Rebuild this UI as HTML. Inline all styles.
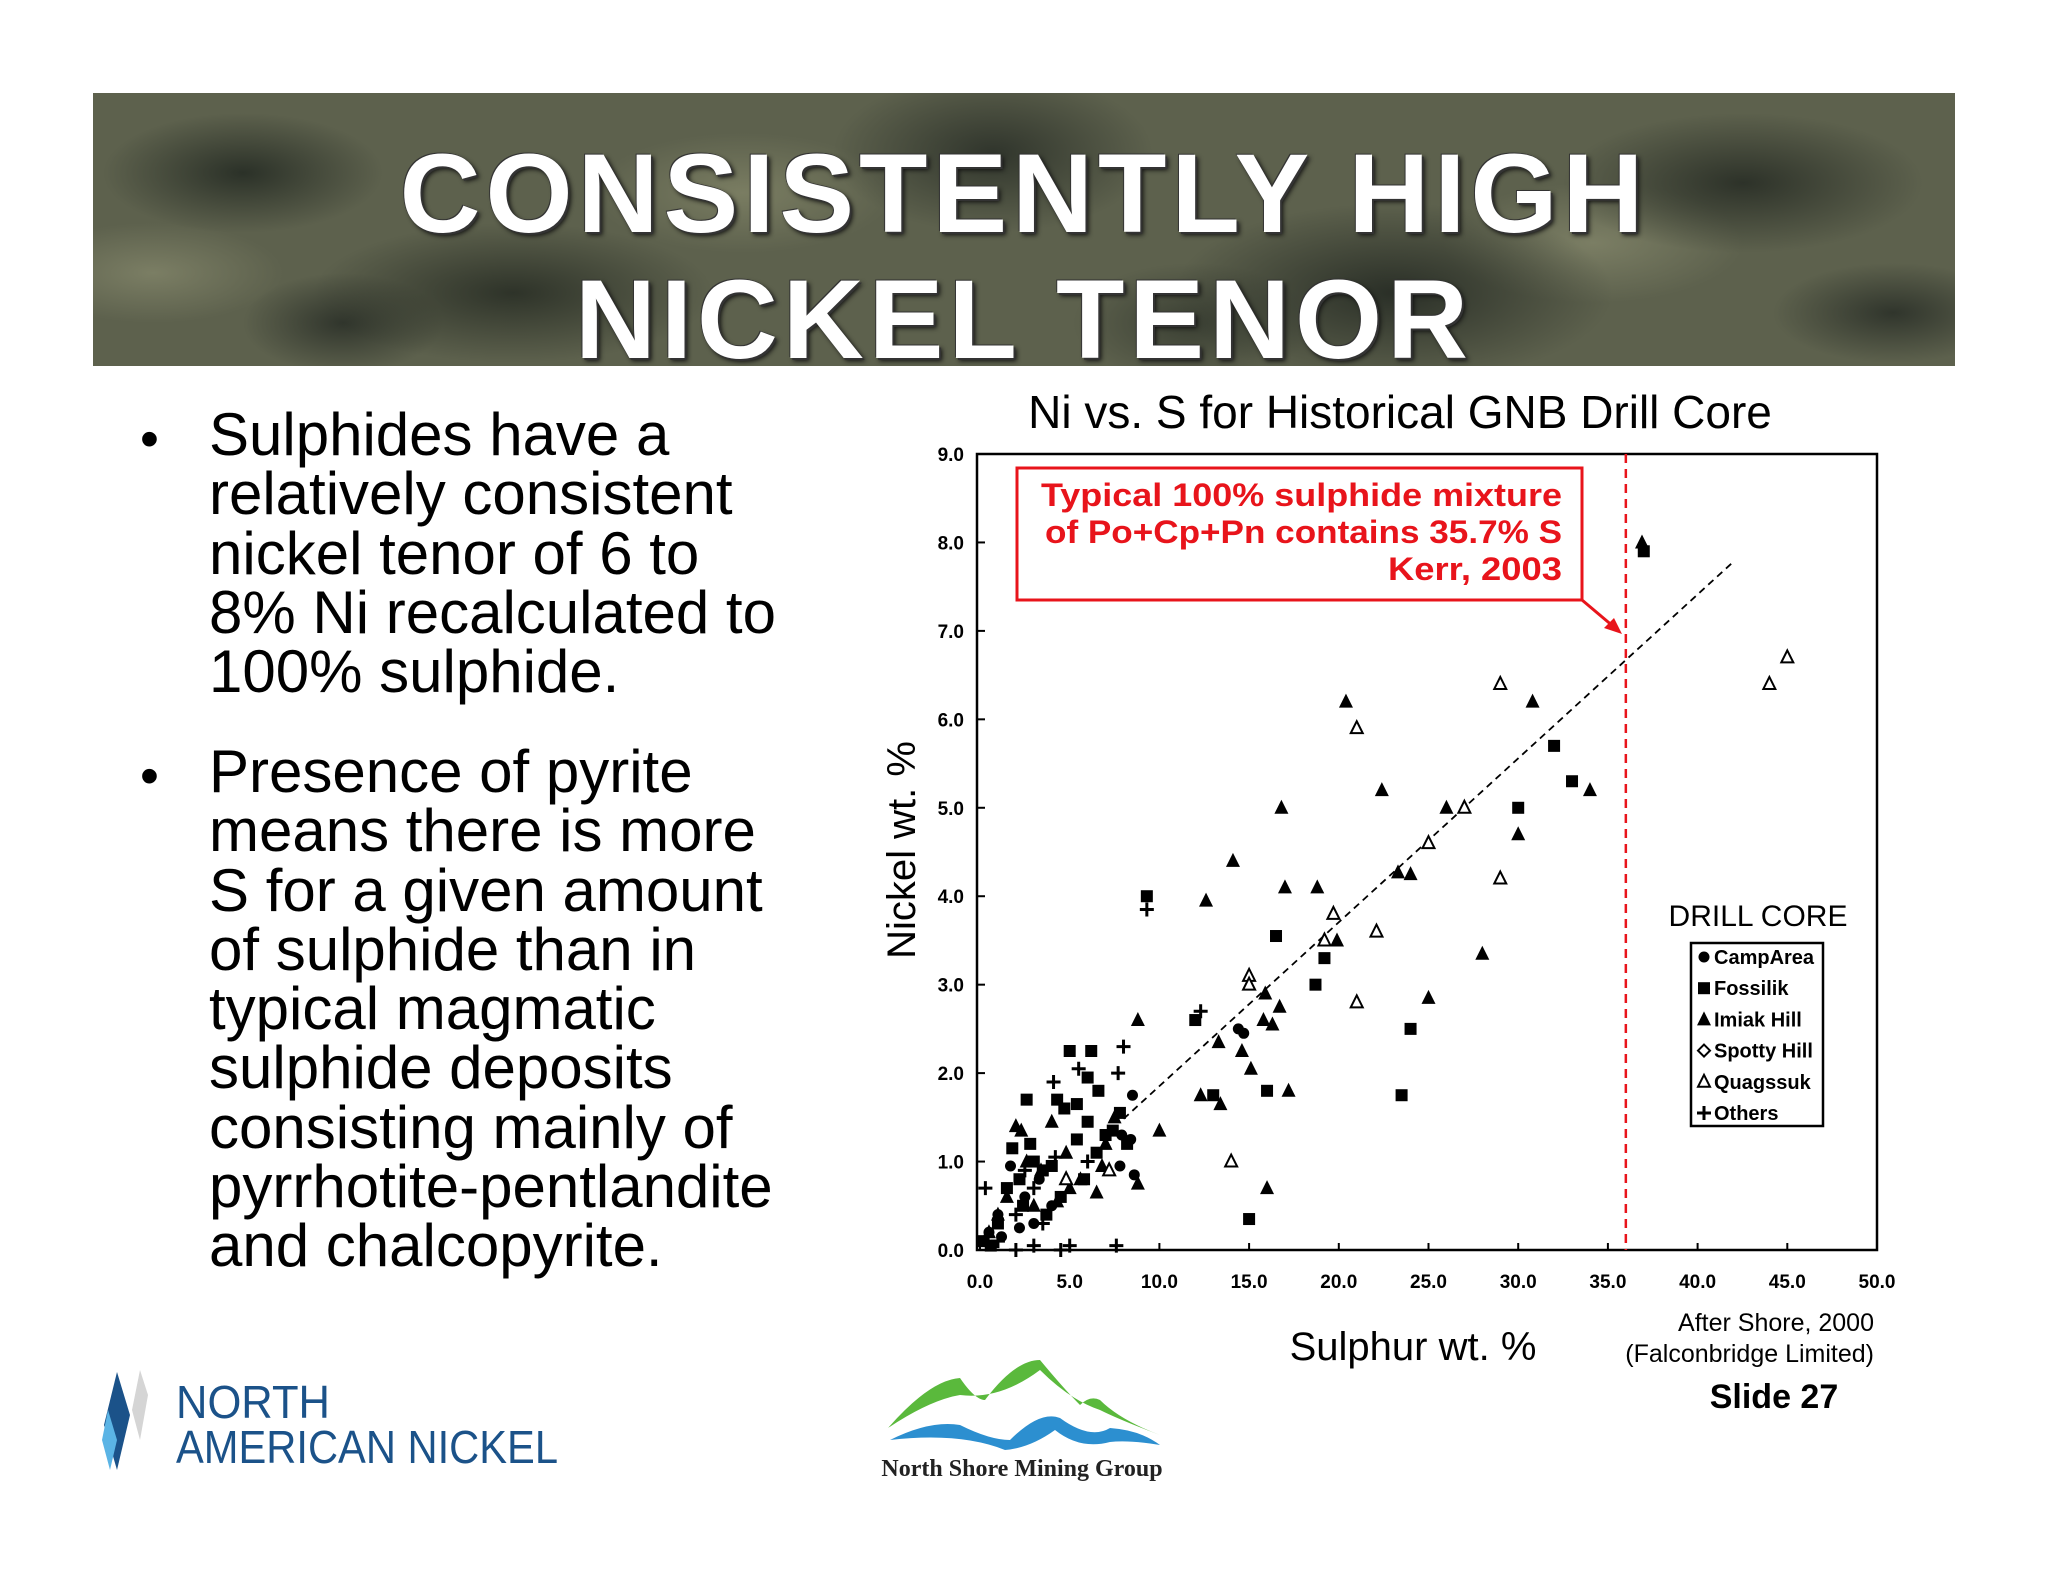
<!DOCTYPE html>
<html><head><meta charset="utf-8"><style>
html,body{margin:0;padding:0;background:#fff;}
body{width:2048px;height:1582px;position:relative;overflow:hidden;font-family:"Liberation Sans",Arial,sans-serif;}
#banner{position:absolute;left:93px;top:93px;width:1862px;height:273px;overflow:hidden;
background:radial-gradient(ellipse 140px 60px at 150px 80px,#2b3128,transparent),radial-gradient(ellipse 200px 70px at 420px 200px,#2e3329,transparent),radial-gradient(ellipse 160px 80px at 900px 60px,#30352c,transparent),radial-gradient(ellipse 220px 90px at 1300px 200px,#2a2f27,transparent),radial-gradient(ellipse 180px 70px at 1650px 90px,#2d3229,transparent),radial-gradient(ellipse 120px 60px at 1100px 230px,#3a3f33,transparent),radial-gradient(ellipse 100px 50px at 250px 230px,#30352c,transparent),radial-gradient(ellipse 120px 50px at 1800px 220px,#30352c,transparent),radial-gradient(ellipse 150px 60px at 650px 100px,#7a7d62,transparent),radial-gradient(ellipse 150px 60px at 1500px 150px,#7b7e64,transparent),radial-gradient(ellipse 130px 50px at 60px 180px,#7b7e64,transparent),#5d614d;}
.t{position:absolute;width:100%;text-align:center;color:#fff;font-weight:bold;font-size:112px;letter-spacing:5px;text-shadow:2px 2px 0 #333,-1px -1px 0 #333,3px 3px 5px #111;}
.bl{position:absolute;left:209px;font-size:60px;line-height:59.3px;color:#000;margin:0;}
.dot{position:absolute;left:140px;font-size:54px;}
</style></head><body>
<div id="banner">
<div class="t" style="top:36px">CONSISTENTLY HIGH</div>
<div class="t" style="top:162px">NICKEL TENOR</div>
</div>
<div class="dot" style="top:408px">•</div>
<p class="bl" style="top:405px">Sulphides have a<br>relatively consistent<br>nickel tenor of 6 to<br>8% Ni recalculated to<br>100% sulphide.</p>
<div class="dot" style="top:745px">•</div>
<p class="bl" style="top:742px">Presence of pyrite<br>means there is more<br>S for a given amount<br>of sulphide than in<br>typical magmatic<br>sulphide deposits<br>consisting mainly of<br>pyrrhotite-pentlandite<br>and chalcopyrite.</p>

<svg id="chart" width="2048" height="1582" style="position:absolute;left:0;top:0" font-family="Liberation Sans, Arial, sans-serif">
<text x="1400" y="428" font-size="46" text-anchor="middle">Ni vs. S for Historical GNB Drill Core</text>
<rect x="977" y="454" width="900" height="796" fill="none" stroke="#000" stroke-width="2.5"/>
<g id="axes"></g>
<g id="marks"></g>
<text transform="translate(915,850) rotate(-90)" font-size="40" text-anchor="middle">Nickel wt. %</text>
<text x="1413" y="1360" font-size="40" text-anchor="middle">Sulphur wt. %</text>
<text x="1874" y="1331" font-size="25" text-anchor="end">After Shore, 2000</text>
<text x="1874" y="1362" font-size="25" text-anchor="end">(Falconbridge Limited)</text>
<text x="1774" y="1408" font-size="34" font-weight="bold" text-anchor="middle">Slide 27</text>
<rect x="1017" y="468" width="565" height="132" fill="#fff" stroke="#e8141b" stroke-width="3"/>
<g font-size="32" font-weight="bold" fill="#e8141b" text-anchor="end">
<text x="1562" y="506" textLength="521" lengthAdjust="spacingAndGlyphs">Typical 100% sulphide mixture</text>
<text x="1562" y="543" textLength="517" lengthAdjust="spacingAndGlyphs">of Po+Cp+Pn contains 35.7% S</text>
<text x="1562" y="580" textLength="174" lengthAdjust="spacingAndGlyphs">Kerr, 2003</text></g>
<line x1="1582" y1="600" x2="1614" y2="627" stroke="#e8141b" stroke-width="3"/>
<polygon points="1622,634 1604,628 1614,618" fill="#e8141b"/>
<text x="1758" y="926" font-size="30" text-anchor="middle">DRILL CORE</text>
<rect x="1691" y="943" width="132" height="183" fill="#fff" stroke="#000" stroke-width="2.5"/>
<g id="legend" font-size="20" font-weight="bold"></g>
<g>
<polygon points="117,1372 130,1415 117,1470 104,1425" fill="#1b5289"/>
<polygon points="140,1370 148,1395 140,1440 132,1410" fill="#d5d5d5"/>
<polygon points="108,1410 117,1440 110,1470 102,1440" fill="#5bb4e5"/>
<text x="176" y="1418" font-size="46" fill="#1b5289" textLength="154" lengthAdjust="spacingAndGlyphs">NORTH</text>
<text x="176" y="1463" font-size="46" fill="#1b5289" textLength="382" lengthAdjust="spacingAndGlyphs">AMERICAN NICKEL</text>
</g>
<g>
<path d="M888,1428 Q930,1380 960,1378 Q975,1400 985,1400 Q1015,1360 1040,1360 Q1065,1390 1080,1405 Q1090,1395 1100,1400 Q1120,1420 1160,1435 Q1120,1420 1100,1410 Q1070,1400 1040,1370 Q1000,1400 960,1395 Q930,1400 888,1428Z" fill="#5ab93c"/>
<path d="M890,1440 Q930,1420 960,1425 Q990,1440 1010,1440 Q1040,1410 1060,1418 Q1090,1440 1110,1428 Q1140,1430 1160,1445 Q1130,1440 1110,1442 Q1080,1450 1055,1430 Q1030,1448 1005,1450 Q960,1432 890,1440Z" fill="#2c8fd0"/>
<text x="1022" y="1476" font-size="24" font-weight="bold" font-family="Liberation Serif, serif" text-anchor="middle" fill="#222">North Shore Mining Group</text>
</g>
</svg>
<script>
const xTicks=[0,5,10,15,20,25,30,35,40,45,50];
const yTicks=[0,1,2,3,4,5,6,7,8,9];
const imiakS=[20.4,30.8,22.4,34,16.8,26,14.1,30,17,18.8,12.6,23.3,24,19.9,28,8.8,15.9,16.7,15.8,16.3,13.3,14.6,15.1,12.3,13.4,17.2,25,10,16,2,4,8.8,6.5,5.6,3,1.5,36.9,2.3,3.4,4.8,6.8,7.5,1,2.6,5,0.5,7,4.3];
const imiakNi=[6.2,6.2,5.2,5.2,5.0,5.0,4.4,4.7,4.1,4.1,3.95,4.27,4.25,3.5,3.35,2.6,2.9,2.75,2.6,2.55,2.35,2.25,2.05,1.75,1.65,1.8,2.85,1.35,0.7,1.4,1.45,0.75,0.65,0.8,0.5,0.6,8.0,1.35,0.9,1.1,0.95,1.5,0.4,1.0,0.7,0.2,1.2,0.55];
const quagS=[29,44,45,21,27,25,29,19.7,22.1,19.2,15,15,21,14,7.2,4.8];
const quagNi=[6.4,6.4,6.7,5.9,5.0,4.6,4.2,3.8,3.6,3.5,3.1,3.0,2.8,1.0,0.9,0.8];
const fossS=[37,32,33,30,9.3,16.5,19.2,18.7,12,24,13,16,23.5,15,5,6.2,2.6,4.3,5.4,6,6.6,7.8,4.7,2.8,1.8,5.4,6.5,7.4,8.2,3.5,2.2,4.5,3.7,1,0.2,6,3,4,5.8,7,2.4,1.5,0.6];
const fossNi=[7.9,5.7,5.3,5.0,4.0,3.55,3.3,3.0,2.6,2.5,1.75,1.8,1.75,0.35,2.25,2.25,1.7,1.7,1.65,1.95,1.8,1.55,1.6,1.2,1.15,1.25,1.1,1.35,1.2,0.9,0.8,0.6,0.4,0.3,0.1,1.45,1.0,0.95,0.8,1.3,0.5,0.7,0.05];
const othS=[9.3,12.3,8,7.7,5.5,4.1,4.2,0.3,1,2,3,4.5,7.6,2,3,3.5,6,5,2.5];
const othNi=[3.85,2.7,2.3,2,2.05,1.9,1.05,0.7,0.1,0,0.05,0,0.05,0.4,0.7,0.3,1.0,0.05,0.9];
const campS=[8.5,14.4,14.7,8.6,7.8,7.9,1.7,2.5,1,0.5,3,8.4,4,1.2,2.2,3.3];
const campNi=[1.75,2.5,2.45,0.85,0.95,1.3,0.95,0.6,0.4,0.2,0.3,1.25,0.5,0.15,0.25,0.8];
const trendS=[8,42];const trendSlope=0.1853;const refS=36;
const X=v=>980+v*(1877-980)/50, Y=v=>1250-v*(1250-454)/9;
const NS='http://www.w3.org/2000/svg';
function mk(t,a,p){const e=document.createElementNS(NS,t);for(const k in a)e.setAttribute(k,a[k]);p.appendChild(e);return e;}
const ax=document.getElementById('axes'),mg=document.getElementById('marks');
xTicks.forEach(v=>{const t=mk('text',{x:X(v),y:1288,'font-size':19,'font-weight':'bold','text-anchor':'middle'},ax);t.textContent=v.toFixed(1);


const l=mk('line',{x1:X(v),x2:X(v),y1:1250,y2:1243,stroke:'#000','stroke-width':2},ax);

});
yTicks.forEach(v=>{const t=mk('text',{x:964,y:Y(v)+7,'font-size':19,'font-weight':'bold','text-anchor':'end'},ax);t.textContent=v.toFixed(1);


const l=mk('line',{x1:977,x2:985,y1:Y(v),y2:Y(v),stroke:'#000','stroke-width':2},ax);

});
const rl=mk('line',{x1:X(refS),x2:X(refS),y1:454,y2:1250,stroke:'#e8141b','stroke-width':2.5,'stroke-dasharray':'9,6'},mg);


const tl=mk('line',{x1:X(trendS[0]),y1:Y(trendS[0]*trendSlope),x2:X(trendS[1]),y2:Y(trendS[1]*trendSlope),stroke:'#000','stroke-width':1.8,'stroke-dasharray':'7,5'},mg);


function marker(type,x,y,p){let e;
if(type==='sq')e=mk('rect',{x:x-6,y:y-6,width:12,height:12,fill:'#000'},p);
else if(type==='tri')e=mk('polygon',{points:`${x},${y-8} ${x+7},${y+6} ${x-7},${y+6}`,fill:'#000'},p);
else if(type==='otri')e=mk('polygon',{points:`${x},${y-7} ${x+6},${y+5} ${x-6},${y+5}`,fill:'#fff',stroke:'#000','stroke-width':2},p);
else if(type==='circ')e=mk('circle',{cx:x,cy:y,r:5.5,fill:'#000'},p);
else if(type==='dia')e=mk('polygon',{points:`${x},${y-6} ${x+6},${y} ${x},${y+6} ${x-6},${y}`,fill:'#fff',stroke:'#000','stroke-width':2},p);
else e=mk('path',{d:`M${x-7},${y}H${x+7}M${x},${y-7}V${y+7}`,stroke:'#000','stroke-width':3},p);
return e;}
function series(sx,sy,type,name){sx.forEach((s,i)=>{const e=marker(type,X(s),Y(sy[i]),mg);

});}
series(fossS,fossNi,'sq','point-fossilik');
series(imiakS,imiakNi,'tri','point-imiak-hill');
series(quagS,quagNi,'otri','point-quagssuk');
series(othS,othNi,'plus','point-others');
series(campS,campNi,'circ','point-camp-area');
const lg=document.getElementById('legend');
const legNames=['CampArea','Fossilik','Imiak Hill','Spotty Hill','Quagssuk','Others'];
const legTypes=['circ','sq','tri','dia','otri','plus'];
legNames.forEach((n,i)=>{const y=957+i*31.2;const m=marker(legTypes[i],1704,y,lg);


const t=mk('text',{x:1714,y:y+7},lg);t.textContent=n;

});
</script>
</body></html>
